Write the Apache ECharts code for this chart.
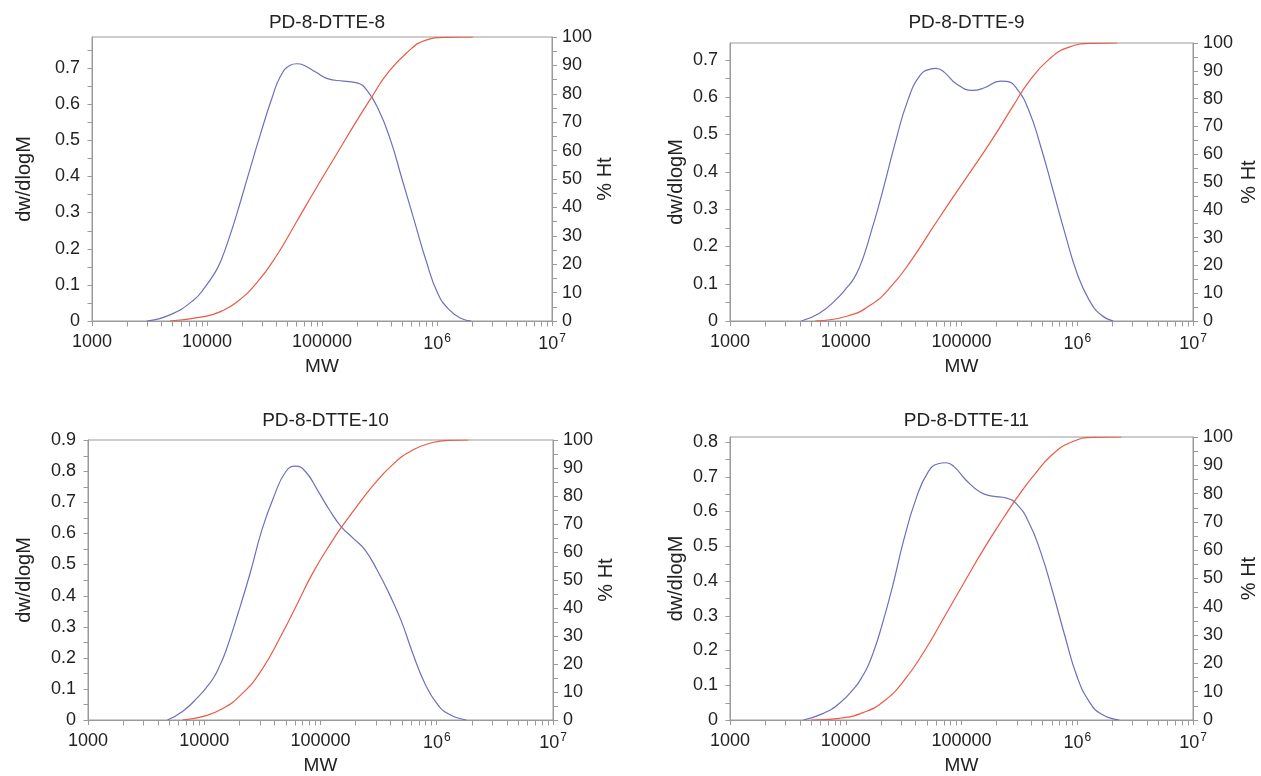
<!DOCTYPE html>
<html>
<head>
<meta charset="utf-8">
<script src="https://cdn.jsdelivr.net/npm/echarts@6/dist/echarts.min.js"></script>
<style>
  html, body { margin: 0; padding: 0; background: #ffffff; }
  #chart { width: 1261px; height: 776px; }
</style>
</head>
<body>
<div id="chart"></div>
<script>
// Sample names, one per panel
const titles = ['PD-8-DTTE-8', 'PD-8-DTTE-9', 'PD-8-DTTE-10', 'PD-8-DTTE-11'];

// Differential distribution (dw/dlogM) : molecular weight and value
const mwDist8 = [3000, 4760, 7660, 9680, 11800, 13270, 15560, 18200, 23070, 29240, 36980, 43350, 52840, 60390, 69500, 88100, 111700, 153100, 201800, 245500, 311200, 394500, 500000, 632400, 801700, 1016000, 1288000, 1629000, 1986000];
const dist8 = [0, 0.017, 0.058, 0.095, 0.135, 0.168, 0.229, 0.297, 0.408, 0.518, 0.619, 0.675, 0.707, 0.711, 0.707, 0.688, 0.670, 0.663, 0.658, 0.638, 0.583, 0.500, 0.389, 0.279, 0.168, 0.076, 0.030, 0.007, 0];

const mwDist9 = [4130, 5920, 8150, 10380, 11700, 13180, 14860, 16750, 18920, 21330, 27100, 34430, 43850, 53580, 60390, 70790, 90160, 124200, 157800, 217300, 245500, 299900, 381100, 484200, 616600, 783400, 995400, 1268000, 1611000, 2046000];
const dist9 = [0, 0.021, 0.056, 0.092, 0.113, 0.145, 0.190, 0.244, 0.300, 0.360, 0.484, 0.592, 0.658, 0.675, 0.677, 0.667, 0.636, 0.618, 0.625, 0.643, 0.642, 0.623, 0.565, 0.467, 0.351, 0.235, 0.128, 0.056, 0.016, 0];

const mwDist10 = [4820, 6500, 8910, 10420, 12190, 13710, 15450, 19540, 24770, 31330, 39720, 50230, 61090, 74470, 94190, 119400, 151000, 191400, 242100, 306900, 388200, 492000, 622300, 788900, 997700, 1265000, 1799000];
const dist10 = [0, 0.027, 0.075, 0.104, 0.139, 0.178, 0.225, 0.343, 0.471, 0.611, 0.718, 0.798, 0.816, 0.798, 0.739, 0.675, 0.621, 0.584, 0.546, 0.482, 0.407, 0.321, 0.214, 0.118, 0.054, 0.019, 0];

const mwDist11 = [4300, 6410, 8830, 12160, 13710, 15490, 17460, 19680, 25000, 31840, 40460, 51400, 62810, 73790, 86500, 110200, 145500, 185400, 245500, 299900, 381100, 484200, 616600, 783400, 995400, 1268000, 1611000, 2307000];
const dist11 = [0, 0.019, 0.048, 0.096, 0.122, 0.154, 0.198, 0.251, 0.376, 0.520, 0.636, 0.713, 0.737, 0.740, 0.728, 0.689, 0.655, 0.644, 0.638, 0.621, 0.569, 0.482, 0.366, 0.241, 0.125, 0.053, 0.017, 0];

// Cumulative distribution (% Ht) : molecular weight and percentage
const mwCum8 = [4760, 9680, 13270, 18200, 27040, 40090, 59430, 88100, 130600, 194100, 266100, 364800, 540800, 801700, 1189000, 2065000];
const cum8 = [0, 1.6, 3.4, 6.7, 13.4, 22.9, 34.6, 46.5, 58.0, 69.6, 78.4, 86.8, 94.3, 98.9, 99.9, 100];

const mwCum9 = [5460, 10380, 16750, 25000, 37330, 55720, 83180, 124200, 185400, 276700, 381100, 568900, 849200, 1371000, 2218000];
const cum9 = [0, 1.8, 6.0, 12.7, 22.2, 33.2, 44.1, 54.7, 65.5, 77.1, 86.0, 94.1, 98.5, 99.9, 100];

const mwCum10 = [6500, 9640, 14290, 21180, 31330, 46450, 63680, 87100, 129100, 151000, 191400, 283800, 419800, 622300, 922600, 1265000, 1871000];
const cum10 = [0, 1.2, 4.0, 9.4, 18.0, 30.6, 41.8, 53.0, 64.6, 68.8, 74.6, 83.8, 91.3, 96.4, 99.1, 99.9, 100];

const mwCum11 = [5050, 8830, 14290, 21330, 31840, 47530, 70790, 105700, 157800, 235500, 299900, 413000, 616600, 918300, 1371000, 2404000];
const cum11 = [0, 0.6, 2.7, 6.6, 13.9, 24.2, 36.3, 48.7, 60.8, 72.0, 78.4, 86.0, 94.0, 98.4, 99.9, 100];

// Upper limit of each dw/dlogM axis
const leftMax = [0.785, 0.745, 0.9, 0.814];

// Decade tick labels of the MW axis: exponent, base text, superscript
const xTickExp = [3, 4, 5, 6, 7];
const xTickBase = ['1000', '10000', '100000', '10', '10'];
const xTickSup = ['', '', '', '6', '7'];

// Minor tick positions of the logarithmic MW axis
const xMinorTicks = [2000, 3000, 4000, 5000, 6000, 7000, 8000, 9000,
  20000, 30000, 40000, 50000, 60000, 70000, 80000, 90000,
  200000, 300000, 400000, 500000, 600000, 700000, 800000, 900000,
  2000000, 3000000, 4000000, 5000000, 6000000, 7000000, 8000000, 9000000];

const panels = [
  { mw: mwDist8, w: dist8, mwc: mwCum8, c: cum8 },
  { mw: mwDist9, w: dist9, mwc: mwCum9, c: cum9 },
  { mw: mwDist10, w: dist10, mwc: mwCum10, c: cum10 },
  { mw: mwDist11, w: dist11, mwc: mwCum11, c: cum11 }
];

// Layout of the four plot areas (pixels)
const layout = [
  { left: 92, top: 37, width: 460, height: 284, titleTop: 8, leftGap: 58, rightGap: 40 },
  { left: 730, top: 43, width: 463, height: 278, titleTop: 8, leftGap: 44, rightGap: 46 },
  { left: 88, top: 440, width: 465, height: 280, titleTop: 406, leftGap: 54, rightGap: 41 },
  { left: 730, top: 437, width: 463, height: 283, titleTop: 406, leftGap: 44, rightGap: 46 }
];

const FONT = "'Liberation Sans', Arial, sans-serif";
const axisColor = '#9a9a9a';
const textColor = '#222222';
const blue = '#6c70bc';
const red = '#ea5a45';
const TICK = 5;

const option = {
  animation: false,
  backgroundColor: '#ffffff',
  textStyle: { fontFamily: FONT },
  title: [],
  grid: [],
  xAxis: [],
  yAxis: [],
  series: []
};

layout.forEach((g, i) => {
  option.grid.push({
    left: g.left, top: g.top, width: g.width, height: g.height,
    show: true, borderColor: axisColor, borderWidth: 1, backgroundColor: 'transparent'
  });

  option.title.push({
    text: titles[i],
    left: g.left + g.width / 2,
    top: g.titleTop,
    textAlign: 'center',
    textStyle: { fontFamily: FONT, fontSize: 19, fontWeight: 'normal', color: textColor }
  });

  option.xAxis.push({
    type: 'log', logBase: 10, gridIndex: i, min: 1000, max: 1e7,
    name: 'MW', nameLocation: 'middle', nameGap: 36,
    nameTextStyle: { fontFamily: FONT, fontSize: 19, color: textColor },
    axisLine: { show: true, onZero: false, lineStyle: { color: axisColor, width: 1 } },
    axisTick: { show: true, length: TICK, lineStyle: { color: axisColor } },
    splitLine: { show: false },
    axisLabel: {
      margin: 12, color: textColor, fontFamily: FONT, fontSize: 18,
      formatter: v => {
        const k = xTickExp.indexOf(Math.round(Math.log10(v)));
        if (k < 0) return '';
        return '{b|' + xTickBase[k] + '}' + (xTickSup[k] ? '{s|' + xTickSup[k] + '}' : '');
      },
      rich: {
        b: { fontFamily: FONT, fontSize: 18, color: textColor },
        s: { fontFamily: FONT, fontSize: 12, color: textColor, verticalAlign: 'top', padding: [0, 0, 10, 1] }
      }
    }
  });

  option.yAxis.push({
    type: 'value', gridIndex: i, position: 'left', min: 0, max: leftMax[i], interval: 0.1,
    name: 'dw/dlogM', nameLocation: 'middle', nameGap: g.leftGap, nameRotate: 90,
    nameTextStyle: { fontFamily: FONT, fontSize: 20, color: textColor },
    axisLine: { show: true, lineStyle: { color: axisColor, width: 1 } },
    axisTick: { show: false },
    splitLine: { show: false },
    axisLabel: {
      margin: 12, color: textColor, fontFamily: FONT, fontSize: 18,
      formatter: v => {
        const t = Math.round(v * 10);
        if (Math.abs(v * 10 - t) > 1e-6) return '';
        return t === 0 ? '0' : (t / 10).toFixed(1);
      }
    }
  });

  option.yAxis.push({
    type: 'value', gridIndex: i, position: 'right', min: 0, max: 100, interval: 10,
    name: '% Ht', nameLocation: 'middle', nameGap: g.rightGap, nameRotate: 90,
    nameTextStyle: { fontFamily: FONT, fontSize: 20, color: textColor },
    axisLine: { show: true, lineStyle: { color: axisColor, width: 1 } },
    axisTick: { show: true, length: TICK, lineStyle: { color: axisColor } },
    minorTick: { show: true, splitNumber: 2, length: TICK, lineStyle: { color: axisColor } },
    splitLine: { show: false },
    minorSplitLine: { show: false },
    axisLabel: { margin: 10, color: textColor, fontFamily: FONT, fontSize: 18 }
  });

  // Minor ticks of the log MW axis and every 0.05 tick of the dw/dlogM axis
  const tickData = xMinorTicks.map(m => [m, 0, 0]);
  for (let k = 0; k * 0.05 <= leftMax[i] + 1e-9; k++) tickData.push([1000, +(k * 0.05).toFixed(2), 1]);

  option.series.push({
    type: 'custom', xAxisIndex: i, yAxisIndex: 2 * i, silent: true, clip: false, z: 1,
    data: tickData,
    encode: { x: 0, y: 1 },
    renderItem: (params, api) => {
      const p = api.coord([api.value(0), api.value(1)]);
      const x = Math.round(p[0]) + 0.5;
      const y = Math.round(p[1]) + 0.5;
      const shape = api.value(2) === 0
        ? { x1: x, y1: y, x2: x, y2: y + TICK }
        : { x1: x - TICK, y1: y, x2: x, y2: y };
      return { type: 'line', shape, style: { stroke: axisColor, lineWidth: 1 } };
    }
  });

  const d = panels[i];
  option.series.push({
    type: 'line', xAxisIndex: i, yAxisIndex: 2 * i, smooth: 0.5, showSymbol: false,
    lineStyle: { color: blue, width: 1.2 }, itemStyle: { color: blue }, z: 3,
    data: d.mw.map((m, k) => [m, d.w[k]])
  });
  option.series.push({
    type: 'line', xAxisIndex: i, yAxisIndex: 2 * i + 1, smooth: 0.5, showSymbol: false,
    lineStyle: { color: red, width: 1.2 }, itemStyle: { color: red }, z: 3,
    data: d.mwc.map((m, k) => [m, d.c[k]])
  });
});

const chart = echarts.init(document.getElementById('chart'), null, { renderer: 'canvas' });
chart.setOption(option);
</script>
</body>
</html>
